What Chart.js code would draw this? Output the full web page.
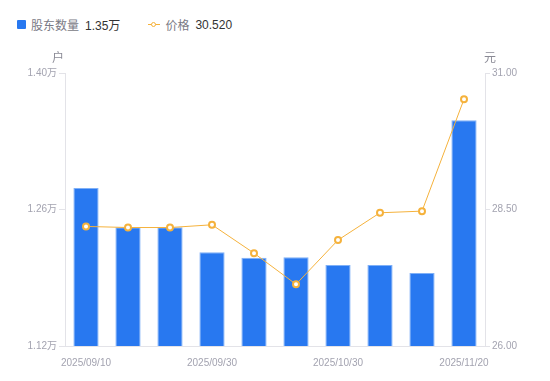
<!DOCTYPE html>
<html>
<head>
<meta charset="utf-8">
<script src="https://cdn.jsdelivr.net/npm/chart.js@4/dist/chart.umd.min.js"></script>
<style>
  html, body { margin: 0; padding: 0; background: #fff; }
  #wrap { position: relative; width: 550px; height: 381px; }
  #legend {
    position: absolute; left: 17px; top: 16px;
    font-family: "Liberation Sans", "Noto Sans CJK SC", sans-serif;
    font-size: 12px; display: flex; align-items: center;
  }
  .item { display: flex; align-items: center; margin-right: 28px; }
  .name { color: #7a7a85; margin-right: 6px; }
  .val { color: #333; }
  .sq { width: 9px; height: 9px; background: #2878f0; border-radius: 1px; margin-right: 5px; }
  .ln { position: relative; width: 12px; height: 9px; margin-right: 5px; }
  .ln:before { content: ""; position: absolute; left: 0; right: 0; top: 4px; height: 1px; background: #f5b23c; }
  .ln:after { content: ""; position: absolute; left: 3px; top: 1.5px; width: 3px; height: 3px; border: 1.5px solid #f5b23c; border-radius: 50%; background: #fff; }
</style>
</head>
<body>
<div id="wrap">
  <div id="legend"></div>
  <canvas id="c" width="550" height="381" style="position:absolute;left:0;top:0"></canvas>
</div>
<script>
const dates = ["2025/09/10", "2025/09/19", "2025/09/26", "2025/09/30", "2025/10/10",
  "2025/10/20", "2025/10/30", "2025/11/10", "2025/11/14", "2025/11/20"];
const holders = [12820, 12417, 12417, 12161, 12106, 12110, 12031, 12031, 11949, 13515];
const prices = [28.19, 28.17, 28.17, 28.22, 27.70, 27.13, 27.94, 28.44, 28.47, 30.52];
const shownLabels = [0, 3, 6, 9];

const barColor = "#2878f0";
const lineColor = "#f5b23c";
const tickColor = "#a3a3b0";
const axisColor = "#e3e3e8";

const last = holders.length - 1;
document.getElementById("legend").innerHTML =
  '<div class="item"><span class="sq"></span><span class="name">股东数量</span><span class="val">' +
  (holders[last] / 10000).toFixed(2) + '万</span></div>' +
  '<div class="item"><span class="ln"></span><span class="name">价格</span><span class="val">' +
  prices[last].toFixed(3) + '</span></div>';

const unitTitles = {
  id: "unitTitles",
  afterDraw(chart) {
    const ctx = chart.ctx;
    const a = chart.chartArea;
    ctx.save();
    ctx.font = '12px "Noto Sans CJK SC", sans-serif';
    ctx.fillStyle = "#8a8a95";
    ctx.textAlign = "center";
    ctx.textBaseline = "middle";
    ctx.fillText("户", a.left - 7, a.top - 16);
    ctx.fillText("元", a.right + 5, a.top - 16);
    ctx.restore();
  }
};

const tickFont = { family: '"Liberation Sans", "Noto Sans CJK SC", sans-serif', size: 10 };

new Chart(document.getElementById("c"), {
  data: {
    labels: dates,
    datasets: [
      {
        type: "line",
        label: "价格",
        data: prices,
        yAxisID: "y1",
        borderColor: lineColor,
        borderWidth: 1,
        pointRadius: 3,
        pointBorderWidth: 2,
        pointBackgroundColor: "#fff",
        pointBorderColor: lineColor,
        tension: 0,
        order: 0
      },
      {
        type: "bar",
        label: "股东数量",
        data: holders,
        yAxisID: "y",
        backgroundColor: barColor,
        borderColor: "#7fb0f7",
        borderWidth: { top: 1, left: 1, right: 1, bottom: 0 },
        barPercentage: 0.6,
        categoryPercentage: 1,
        order: 1
      }
    ]
  },
  options: {
    responsive: false,
    animation: false,
    layout: { padding: { top: 73, left: 0, right: 0, bottom: 0 } },
    plugins: { legend: { display: false }, tooltip: { enabled: false } },
    scales: {
      x: {
        grid: { display: false },
        border: { color: axisColor },
        ticks: {
          autoSkip: false, maxRotation: 0, color: tickColor, font: tickFont, padding: 3,
          callback: (v, i) => shownLabels.includes(i) ? dates[i] : ""
        },
        afterFit: s => { s.height = 35; }
      },
      y: {
        position: "left",
        min: 11200, max: 14000,
        grid: { drawOnChartArea: false, tickLength: 6, color: axisColor },
        border: { color: axisColor },
        ticks: {
          stepSize: 1400, color: tickColor, font: tickFont, padding: 2,
          callback: v => (v / 10000).toFixed(2) + "万"
        },
        afterFit: s => { s.width = 65; }
      },
      y1: {
        position: "right",
        min: 26, max: 31,
        grid: { drawOnChartArea: false, tickLength: 5, color: axisColor },
        border: { color: axisColor },
        ticks: {
          stepSize: 2.5, color: tickColor, font: tickFont, padding: 2,
          callback: v => v.toFixed(2)
        },
        afterFit: s => { s.width = 65; }
      }
    }
  },
  plugins: [unitTitles]
});
</script>
</body>
</html>
